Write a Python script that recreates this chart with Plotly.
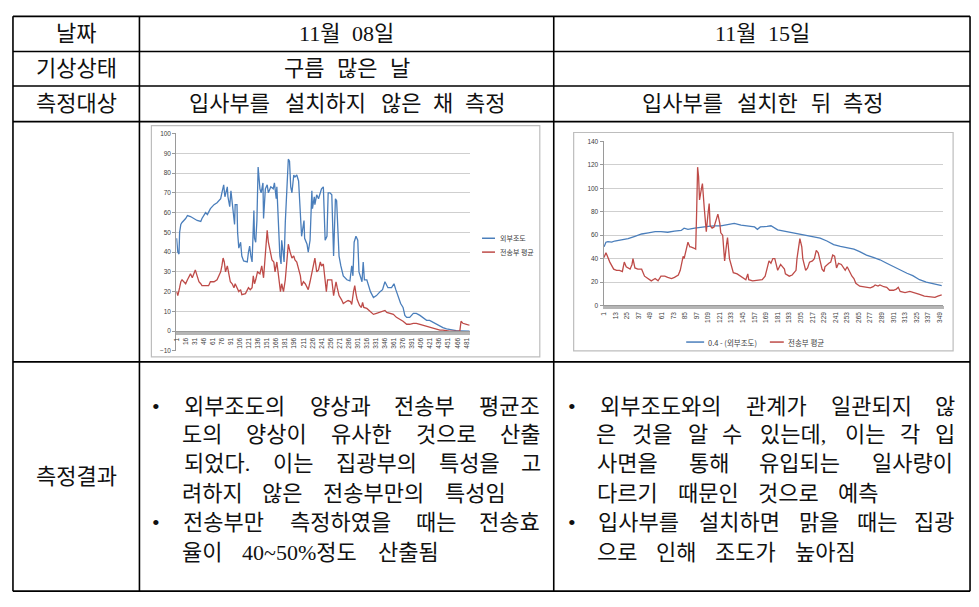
import plotly.graph_objects as go

W, H = 979, 607

# ---------------- chart 1 (11월 08일) data ----------------
c1_x_outer = [1, 3, 5, 6, 8, 10, 16, 19, 24, 30, 35, 41, 43, 49, 52, 57, 63, 68, 74, 76, 79, 81, 85, 86, 89, 91,
              95, 97, 98, 101, 102, 104, 107, 109, 112, 118, 120, 122, 124, 126, 129, 130, 132, 134, 136, 139, 141,
              144, 145, 148, 151, 153, 157, 161, 163, 166, 167, 170, 172, 174, 175, 177, 179, 181, 183, 186, 188,
              190, 192, 195, 197, 200, 203, 205, 207, 208, 210, 212, 213, 217, 219, 222, 225, 226, 229, 230, 233,
              236, 239, 241, 244, 246, 247, 250, 252, 255, 258, 261, 263, 264, 266, 268, 270, 273, 277, 283, 288,
              291, 293, 295, 298, 301, 303, 306, 308, 310, 312, 316, 318, 322, 327, 332, 338, 342, 346, 349, 351,
              357, 361, 364, 368, 372, 376, 379, 382, 387, 393, 398, 404, 409, 415, 420, 426, 431, 437, 442, 448,
              453, 459, 464, 470, 475, 486]
c1_outer = [47, 40, 39, 50, 54, 55, 57, 58.5, 58, 57, 56, 55.5, 57, 60, 59, 62, 64, 65, 67, 70, 74, 68, 73, 68, 63, 71,
            60, 54, 64, 64, 50, 42, 45, 38, 35.5, 35, 40, 43, 38, 35, 61, 47, 45, 56, 83, 72, 70,
            75, 57, 72, 74, 70, 73, 72, 75, 67, 73, 55, 38, 34, 46, 41, 35, 55, 70, 87, 86,
            73, 70, 79, 78, 79, 76, 65, 55, 48, 52, 56, 47, 44, 40, 46, 71, 62, 68, 64, 69,
            67, 70, 72, 73, 60, 46, 48, 70, 70, 69, 38, 55, 67, 66, 47, 38, 33, 28, 26, 25.5,
            33, 28, 45, 48, 46, 30, 27, 25, 35, 26, 26, 24, 20, 17, 18, 20, 21, 25, 23.5, 22,
            22, 24, 21, 17, 14, 12, 8, 7, 7, 9, 9, 8, 7, 5.5, 5.5, 4.5, 3.5, 2.5, 1.8, 1.2,
            0.8, 0.5, 0.3, 0.2, 0.1, 0]
c1_x_trans = [1, 3, 6, 8, 10, 13, 16, 19, 21, 24, 27, 30, 32, 35, 38, 41, 43, 49, 54, 57, 63, 68, 74, 76, 78, 80,
              82, 85, 87, 90, 93, 96, 98, 101, 104, 107, 109, 115, 120, 123, 126, 128, 130, 132, 135, 139, 142,
              145, 148, 151, 153, 156, 159, 162, 164, 167, 170, 173, 175, 178, 181, 184, 186, 189, 192, 195, 197,
              200, 203, 206, 208, 211, 214, 217, 219, 222, 225, 228, 230, 233, 236, 239, 241, 244, 247, 249, 251,
              255, 258, 261, 263, 265, 267, 270, 274, 277, 282, 285, 289, 291, 294, 296, 298, 300, 304, 307, 309,
              311, 316, 321, 327, 332, 338, 343, 346, 349, 354, 360, 365, 371, 376, 382, 387, 393, 398, 404, 409,
              415, 420, 426, 431, 437, 442, 448, 453, 464, 470, 472, 475, 481, 486]
c1_trans = [20, 18, 22, 25, 26, 25, 24, 26, 27, 29, 27, 30, 31, 28, 25, 24, 23, 23, 23, 25, 25, 26, 30, 33, 37, 35,
            30, 33, 30, 25, 24, 22, 24, 22, 20, 21, 18.5, 19, 22, 21, 22, 28, 24, 26, 30, 29, 33,
            27, 38, 51, 45, 40, 36, 35, 30, 35, 26, 20, 24, 20, 26, 37, 44, 40, 37, 38, 36,
            35, 31, 28, 23, 25, 24, 22, 21, 25, 30, 33, 37, 30, 31, 35, 33, 34, 27, 20, 26,
            26, 26, 18, 22, 25, 22, 18, 16, 14, 15, 15.5, 15, 13.5, 20, 23, 19, 16, 13, 12, 14.5,
            12, 11.5, 10, 8.5, 9, 9.5, 10, 10.5, 9.5, 9, 8.5, 7, 6, 5, 3.5, 3.5, 4, 4, 3.5, 3,
            2.5, 2, 1.5, 1, 0.5, 0.5, 0.2, 0, 0, 0, 5, 4, 3.5, 3]
c1_ticks = [1, 16, 31, 46, 61, 76, 91, 106, 121, 136, 151, 166, 181, 196, 211, 226, 241, 256, 271, 286, 301, 316,
            331, 346, 361, 376, 391, 406, 421, 436, 451, 466, 481]
c1_names = ["외부조도", "전송부 평균"]

# ---------------- chart 2 (11월 15일) data ----------------
c2_x_outer = [1, 3, 5, 9, 12, 19, 26, 33, 40, 47, 54, 60, 67, 74, 81, 84, 88, 95, 102, 109, 115, 122, 129, 136, 143,
              150, 157, 160, 163, 170, 174, 181, 191, 198, 205, 212, 218, 225, 232, 239, 246, 253, 260, 266, 273,
              280, 287, 294, 301, 308, 315, 321, 328, 335, 342, 351]
c2_outer = [50, 54, 54.5, 54, 55, 56, 57, 59, 61, 62, 63, 63, 62.5, 63.5, 64, 66, 65, 66, 67, 67.5, 68, 68, 69, 70, 68.5,
            68, 67, 65, 67, 67.5, 68, 64.5, 63, 61.5, 60.5, 59.5, 58.5, 57.5, 55, 52, 50.5, 49.5, 48, 46, 43,
            41, 39, 36, 33, 30, 27.5, 25.5, 22, 20, 18.5, 17]
c2_x_trans = [1, 3, 4, 7, 11, 14, 17, 20, 22, 24, 28, 30, 31, 33, 36, 40, 43, 47, 50, 54, 57, 60, 64, 67, 71, 74, 78,
              80, 83, 84, 86, 88, 90, 91, 94, 96, 97, 98, 99, 100, 102, 103, 105, 107, 109, 110, 111, 113, 115, 117,
              119, 121, 122, 124, 126, 128, 129, 131, 133, 135, 139, 143, 146, 148, 150, 151, 155, 160, 165, 168,
              170, 172, 174, 176, 178, 181, 184, 188, 189, 193, 196, 200, 201, 203, 204, 206, 207, 210, 212, 214,
              217, 219, 221, 223, 225, 227, 229, 230, 234, 236, 238, 240, 242, 244, 247, 249, 251, 253, 256, 258,
              260, 262, 266, 272, 277, 280, 282, 285, 287, 291, 294, 297, 301, 304, 306, 308, 313, 318, 323, 328,
              333, 339, 344, 347, 351]
c2_trans = [41, 45, 43, 37, 31, 30, 30, 29, 37, 33, 31, 35, 40, 32, 31, 31, 25, 23, 21, 23, 21, 25, 25, 24, 23, 24, 26,
            30, 42, 40, 47, 54, 50, 50, 49, 48, 80, 118, 110, 90, 100, 104, 82, 63, 80, 87, 68, 66, 67, 72,
            78, 70, 62, 60, 38, 52, 58, 40, 33, 28, 27, 25, 23.5, 22, 27, 22, 21, 21.5, 22, 25,
            33, 38, 36, 40, 40, 30, 35, 31, 27, 25, 26, 30, 40, 49, 57, 50, 40, 30, 32, 37,
            38, 40, 47, 45, 38, 31, 29, 33, 36, 37, 43, 42, 32, 36, 35, 33, 30, 33, 28, 25,
            23, 19, 16.5, 15.5, 15, 16, 17.5, 16.5, 17.5, 16, 15.5, 13, 13, 14, 15.5, 12, 11, 12, 11, 9.5,
            8, 7.5, 7, 8, 9]
c2_ticks = [1, 13, 25, 37, 49, 61, 73, 85, 97, 109, 121, 133, 145, 157, 169, 181, 193, 205, 217, 229, 241, 253,
            265, 277, 289, 301, 313, 325, 337, 349]
c2_names = ["0.4 - (외부조도)", "전송부 평균"]

# ---------------- table text ----------------
row_labels = ["날짜", "기상상태", "측정대상", "측정결과"]
dates = ["11월 08일", "11월 15일"]
weather = ["구름 많은 날", ""]
targets = ["입사부를 설치하지 않은 채 측정", "입사부를 설치한 뒤 측정"]
result_left = [("외부조도의 양상과 전송부 평균조", True, True),
               ("도의 양상이 유사한 것으로 산출", True, False),
               ("되었다. 이는 집광부의 특성을 고", True, False),
               ("려하지 않은 전송부만의 특성임", False, False),
               ("전송부만 측정하였을 때는 전송효", True, True),
               ("율이 40~50%정도 산출됨", False, False)]
result_right = [("외부조도와의 관계가 일관되지 않", True, True),
                ("은 것을 알 수 있는데, 이는 각 입", True, False),
                ("사면을 통해 유입되는 일사량이", True, False),
                ("다르기 때문인 것으로 예측", False, False),
                ("입사부를 설치하면 맑을 때는 집광", True, True),
                ("으로 인해 조도가 높아짐", False, False)]


def px(x):
    return x / W


def py(y):
    return 1 - y / H


BLUE = "#4A7EBB"
RED = "#BE4B48"
TXT_FONT = "Liberation Serif, Noto Sans CJK KR"
FS = 22
ADV = 21.7

fig = go.Figure()

fig.add_trace(go.Scatter(x=c1_x_outer, y=c1_outer, mode="lines", name=c1_names[0],
                         line=dict(color=BLUE, width=1.3), xaxis="x", yaxis="y"))
fig.add_trace(go.Scatter(x=c1_x_trans, y=c1_trans, mode="lines", name=c1_names[1],
                         line=dict(color=RED, width=1.3), xaxis="x", yaxis="y"))
fig.add_trace(go.Scatter(x=c2_x_outer, y=c2_outer, mode="lines", name=c2_names[0],
                         line=dict(color=BLUE, width=1.3), xaxis="x2", yaxis="y2"))
fig.add_trace(go.Scatter(x=c2_x_trans, y=c2_trans, mode="lines", name=c2_names[1],
                         line=dict(color=RED, width=1.3), xaxis="x2", yaxis="y2"))

y1_dom = [py(351), py(131)]
y1_rng = [-10, 100]
x1_pos = y1_dom[0] + (0 - y1_rng[0]) / (y1_rng[1] - y1_rng[0]) * (y1_dom[1] - y1_dom[0])
tickfont = dict(family="Liberation Sans, Noto Sans CJK KR", size=6.5, color="#404040")
grid = "#cfcfcf"
axc = "#9a9a9a"

fig.update_layout(
    width=W, height=H, margin=dict(l=0, r=0, t=0, b=0),
    paper_bgcolor="white", plot_bgcolor="white", showlegend=False,
    xaxis=dict(domain=[px(173), px(468)], range=[0.5, 487], anchor="free", position=x1_pos,
               tickmode="array", tickvals=c1_ticks, ticktext=[str(t) for t in c1_ticks], tickangle=-90,
               tickfont=tickfont, showgrid=False, zeroline=False, showline=True, linecolor=axc,
               ticks="outside", ticklen=3, tickcolor="#b5b5b5",
               minor=dict(ticks="outside", tick0=0.5, dtick=1, ticklen=3, tickcolor="#b5b5b5", tickwidth=0.6,
                          showgrid=False)),
    yaxis=dict(domain=y1_dom, range=y1_rng, dtick=10, anchor="x", tickfont=tickfont,
               showgrid=True, gridcolor=grid, gridwidth=1, zeroline=False, showline=True, linecolor=axc,
               ticks="outside", ticklen=3, tickcolor=axc),
    xaxis2=dict(domain=[px(602), px(943)], range=[0.5, 352.5], anchor="y2",
                tickmode="array", tickvals=c2_ticks, ticktext=[str(t) for t in c2_ticks], tickangle=-90,
                tickfont=tickfont, showgrid=False, zeroline=False, showline=True, linecolor=axc,
                ticks="outside", ticklen=3, tickcolor="#b5b5b5",
                minor=dict(ticks="outside", tick0=0.5, dtick=1, ticklen=3, tickcolor="#b5b5b5", tickwidth=0.6,
                           showgrid=False)),
    yaxis2=dict(domain=[py(305), py(139)], range=[0, 140], dtick=20, anchor="x2", tickfont=tickfont,
                showgrid=True, gridcolor=grid, gridwidth=1, zeroline=False, showline=True, linecolor=axc,
                ticks="outside", ticklen=3, tickcolor=axc),
)

shapes = []
annotations = []

# chart frames
for (x0, y0, x1, y1) in [(148, 123, 538, 357), (572, 130, 953, 351)]:
    shapes.append(dict(type="rect", xref="paper", yref="paper", x0=px(x0), x1=px(x1), y0=py(y0), y1=py(y1),
                       line=dict(color="#bdbdbd", width=1.2), fillcolor="rgba(0,0,0,0)", layer="below"))

# chart legends (drawn as keys: short line + label)
legend_font = dict(family="Noto Sans CJK KR", size=7, color="#404040")
for (name, col), ly in zip(zip(c1_names, [BLUE, RED]), [237, 251]):
    shapes.append(dict(type="line", xref="paper", yref="paper", x0=px(480), x1=px(493), y0=py(ly), y1=py(ly),
                       line=dict(color=col, width=1.5)))
    annotations.append(dict(text=name, x=px(496), y=py(ly), xref="paper", yref="paper", showarrow=False,
                            xanchor="left", yanchor="middle", font=legend_font))
for name, col, lx0, lx1 in zip(c2_names, [BLUE, RED], [685, 769], [703, 783]):
    shapes.append(dict(type="line", xref="paper", yref="paper", x0=px(lx0), x1=px(lx1), y0=py(342), y1=py(342),
                       line=dict(color=col, width=1.5)))
    annotations.append(dict(text=name, x=px(lx1 + 2), y=py(342), xref="paper", yref="paper", showarrow=False,
                            xanchor="left", yanchor="middle",
                            font=dict(family="Noto Sans CJK KR", size=7.5, color="#404040")))

# table lines
rows_y = [12.5, 48, 83, 119, 362, 594]
cols_x = [9, 136, 552, 970]
for yv in rows_y:
    shapes.append(dict(type="line", xref="paper", yref="paper", x0=px(cols_x[0]), x1=px(cols_x[-1]),
                       y0=py(yv), y1=py(yv), line=dict(color="black", width=1.6)))
for xv in cols_x:
    shapes.append(dict(type="line", xref="paper", yref="paper", x0=px(xv), x1=px(xv),
                       y0=py(rows_y[0]), y1=py(rows_y[-1]), line=dict(color="black", width=1.6)))
fig.update_layout(shapes=shapes)


def char_w(ch):
    if "\uac00" <= ch <= "\ud7a3":
        return ADV
    if ch.isdigit():
        return ADV * 0.55
    if ch in ".,":
        return ADV * 0.4
    if ch == "~":
        return ADV * 0.6
    if ch == "%":
        return ADV * 0.85
    return ADV * 0.5


def word_w(w):
    return sum(char_w(c) for c in w)


def add_word(w, xc, yc):
    annotations.append(dict(text=w, x=px(xc), y=py(yc), xref="paper", yref="paper", showarrow=False,
                            xanchor="center", yanchor="middle",
                            font=dict(family=TXT_FONT, size=FS, color="#111111")))


def place_line(text, x0, x1, yc, justify, gap=15.5):
    words = text.split(" ")
    widths = [word_w(w) for w in words]
    if justify and len(words) > 1:
        g = (x1 - x0 - sum(widths)) / (len(words) - 1)
    else:
        g = gap
    x = x0
    for w, wd in zip(words, widths):
        add_word(w, x + wd / 2, yc)
        x += wd + g


def center_line(text, xc, yc, gap=10):
    words = text.split(" ")
    widths = [word_w(w) for w in words]
    total = sum(widths) + gap * (len(words) - 1)
    place_line(text, xc - total / 2, xc + total / 2, yc, False, gap)


row_centers = [(rows_y[i] + rows_y[i + 1]) / 2 for i in range(len(rows_y) - 1)]
label_rows = [0, 1, 2, 4]
for lab, r in zip(row_labels, label_rows):
    center_line(lab, (cols_x[0] + cols_x[1]) / 2, row_centers[r])

col_centers = [(cols_x[1] + cols_x[2]) / 2, (cols_x[2] + cols_x[3]) / 2]
for i in range(2):
    center_line(dates[i], col_centers[i], row_centers[0], gap=8)
    if weather[i]:
        center_line(weather[i], col_centers[i], row_centers[1])
    center_line(targets[i], col_centers[i], row_centers[2])

line_y = [407, 436, 465, 495, 525, 555]
for lines, x0, x1, bx in [(result_left, 177, 540, 153), (result_right, 594, 956, 570)]:
    for (txt, just, bullet), yv in zip(lines, line_y):
        place_line(txt, x0, x1, yv, just)
        if bullet:
            add_word("•", bx, yv)

fig.update_layout(annotations=annotations)

fig.write_html("out.html", config={"displayModeBar": False},
               post_script="document.body.style.margin='0';document.body.style.overflow='hidden';")
